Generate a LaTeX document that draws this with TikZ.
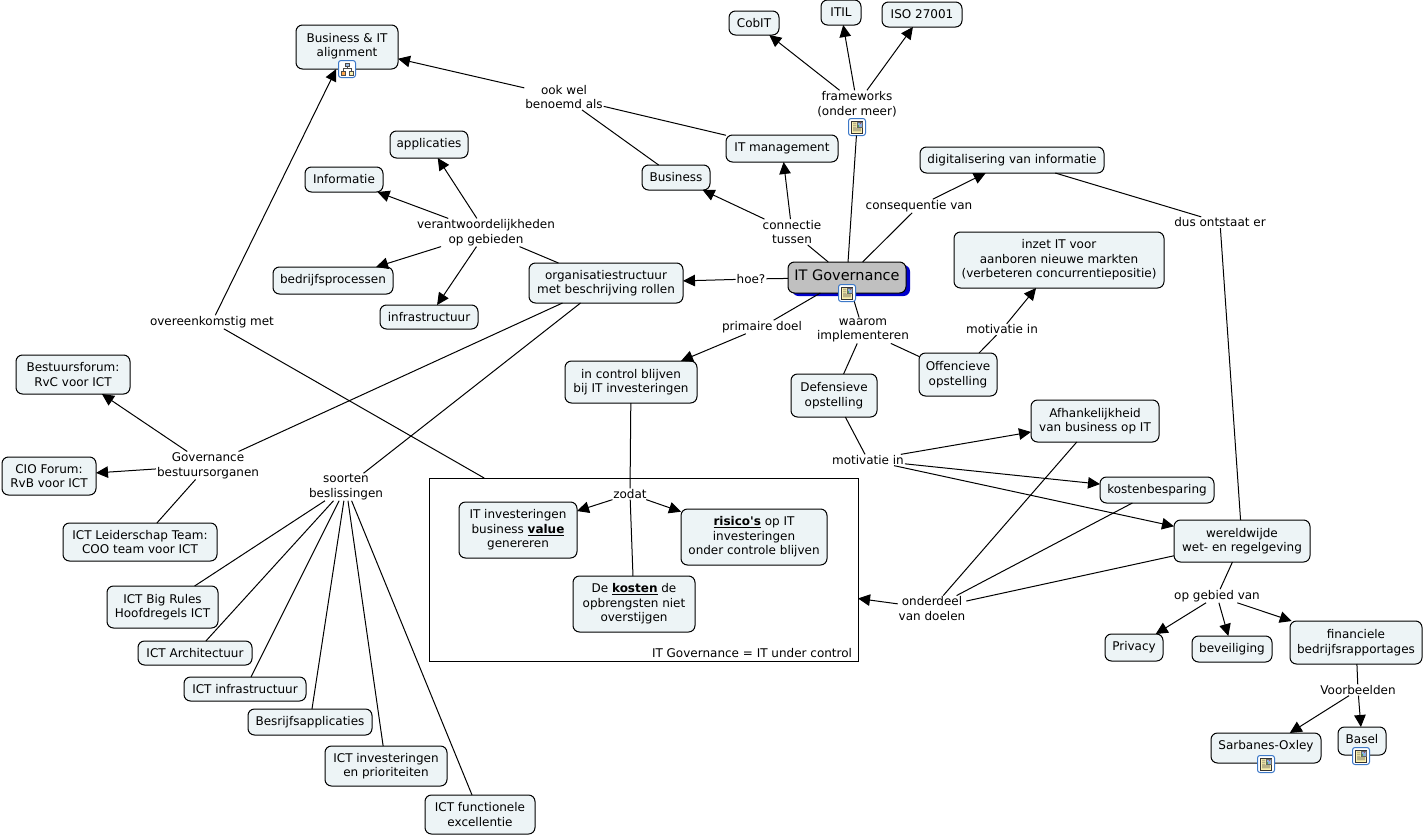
\documentclass[tikz,border=0pt]{standalone}
\usepackage{fontspec}
\setmainfont{DejaVu Sans}[Ligatures=TeXOff]
\usetikzlibrary{arrows.meta,shadows}
\definecolor{boxfill}{HTML}{EDF4F6}
\definecolor{mainfill}{HTML}{C0C0C0}
\definecolor{shadowblue}{HTML}{0000CC}
\definecolor{iconblue}{HTML}{3C78C8}
\definecolor{iconyellow}{HTML}{FBF1B0}
\tikzset{
  base/.style={font=\fontsize{12}{14.6}\selectfont,align=center,inner sep=0pt,outer sep=0pt,text=black},
  cpt/.style={base,draw=black,line width=1pt,fill=boxfill,rounded corners=6.5pt},
  lnk/.style={base,inner xsep=1pt,inner ysep=1pt},
  conn/.style={draw=black,line width=1pt},
  arr/.style={conn,-{Triangle[length=12pt,width=11.5pt]}},
  icn/.style={draw=iconblue,line width=1pt,fill=white,rounded corners=2.5pt,minimum width=17pt,minimum height=17pt,inner sep=0pt,outer sep=0pt},
}
\newcommand\cbox[7][]{\node[cpt,minimum width={#5-#3},minimum height={#6-#4},#1] (#2) at ({(#3+#5)/2},{(#4+#6)/2}) {#7};}
\newcommand\lbl[4]{\node[lnk] (#1) at (#2,#3) {#4};}
\newcommand\docicon[3]{%
  \node[icn] (#1) at (#2,#3) {};
  \begin{scope}[shift={(#1.center)}]
    \path[fill=iconyellow,draw=black!80,line width=.5pt] (-5.5,-6) rectangle (5.5,6);
    \path[fill=black!75] (-4,-4.2) rectangle (-.6,-3.6) (-4,-2.2) rectangle (-.6,-1.6) (-4,-.2) rectangle (-.6,.4);
    \path[fill=black!75] (-4,1.7) rectangle (4,2.3) (-4,3.6) rectangle (4,4.2);
    \path[fill=iconblue!60,draw=black!60,line width=.3pt] (.3,-5) rectangle (4.7,-.2);
    \path[fill=green!50!black!70] (.6,-.5) rectangle (2.4,-2);
    \path[fill=red!60!black!70] (2.8,-3) rectangle (4.3,-4.4);
  \end{scope}}
\newcommand\hiericon[3]{%
  \node[icn] (#1) at (#2,#3) {};
  \begin{scope}[shift={(#1.center)}]
    \path[draw=black!70,line width=.5pt] (0,-2.5) -- (0,-.5) (-4,2) -- (-4,-.5) -- (4,-.5) -- (4,2);
    \path[fill=iconblue!50,draw=black!70,line width=.4pt] (-2,-6) rectangle (2,-2.5);
    \path[fill=orange!70,draw=black!70,line width=.4pt] (-6,2) rectangle (-2,5.7);
    \path[fill=iconyellow,draw=black!70,line width=.4pt] (2,2) rectangle (6,5.7);
  \end{scope}}
\begin{document}
\begin{tikzpicture}[x=1pt,y=-1pt]
\path[fill=white,use as bounding box] (0,0) rectangle (1425,836);
% frame
\node[draw=black,line width=1pt,minimum width=429pt,minimum height=183pt,inner sep=0pt,outer sep=0pt] (frame) at (643.5,569.5) {};
\node[base] (framelbl) at (752,653) {IT Governance = IT under control};
% concepts
\cbox{biz}{296}{25}{398}{69}{Business \& IT\\alignment\\[-10.6pt]}
\cbox{cobit}{729}{11}{779}{35}{CobIT}
\cbox{itil}{821}{0}{861}{25}{ITIL}
\cbox{iso}{882}{2}{962}{27}{ISO 27001}
\cbox{itman}{726}{135}{838}{162}{IT management}
\cbox{business}{642}{165}{710}{190}{Business}
\cbox{digital}{920}{147}{1104}{173}{digitalisering van informatie}
\cbox{applic}{390}{131}{468}{158}{applicaties}
\cbox{inform}{305}{167}{383}{192}{Informatie}
\cbox{bedrijf}{273}{267}{393}{294}{bedrijfsprocessen}
\cbox{infra}{380}{305}{478}{329}{infrastructuur}
\cbox{org}{529}{263}{683}{303}{organisatiestructuur\\met beschrijving rollen}
\cbox[font=\fontsize{14.5}{17}\selectfont,fill=mainfill,general shadow={shadow xshift=4pt,shadow yshift=-3pt,fill=shadowblue}]{itgov}{788}{262}{906}{293}{IT Governance\\[-13pt]}
\cbox{inzet}{954}{232}{1164}{288}{inzet IT voor\\aanboren nieuwe markten\\(verbeteren concurrentiepositie)}
\cbox{offens}{919}{353}{997}{396}{Offencieve\\opstelling}
\cbox{defens}{791}{374}{877}{417}{Defensieve\\opstelling}
\cbox{incontrol}{565}{361}{697}{403}{in control blijven\\bij IT investeringen}
\cbox{afh}{1031}{400}{1159}{442}{Afhankelijkheid\\van business op IT}
\cbox{kosten}{1100}{477}{1214}{503}{kostenbesparing}
\cbox{wereld}{1174}{520}{1310}{562}{wereldwijde\\wet- en regelgeving}
\cbox{bestuur}{16}{355}{130}{394}{Bestuursforum:\\RvC voor ICT}
\cbox{cio}{2}{457}{96}{495}{CIO Forum:\\RvB voor ICT}
\cbox{leider}{63}{523}{217}{561}{ICT Leiderschap Team:\\COO team voor ICT}
\cbox{bigrules}{107}{586}{218}{628}{ICT Big Rules\\Hoofdregels ICT}
\cbox{arch}{138}{641}{252}{665}{ICT Architectuur}
\cbox{ictinfra}{184}{677}{306}{701}{ICT infrastructuur}
\cbox{besrijf}{248}{709}{372}{735}{Besrijfsapplicaties}
\cbox{invest}{325}{746}{447}{786}{ICT investeringen\\en prioriteiten}
\cbox{func}{425}{795}{535}{834}{ICT functionele\\excellentie}
\cbox{value}{459}{502}{577}{558}{IT investeringen\\business \underline{\textbf{value}}\\genereren}
\cbox{risico}{681}{509}{827}{565}{\underline{\textbf{risico's}} op IT\\investeringen\\onder controle blijven}
\cbox{kostbox}{573}{576}{695}{632}{De \underline{\textbf{kosten}} de\\opbrengsten niet\\overstijgen}
\cbox{privacy}{1105}{634}{1163}{661}{Privacy}
\cbox{bevei}{1192}{636}{1272}{662}{beveiliging}
\cbox{fin}{1290}{621}{1422}{664}{financiele\\bedrijfsrapportages}
\cbox{sarb}{1211}{733}{1321}{763}{Sarbanes-Oxley\\[-8.6pt]}
\cbox{basel}{1338}{727}{1386}{755}{Basel\\[-10.6pt]}
% linking phrases
\lbl{ook}{564}{97}{ook wel\\benoemd als}
\lbl{frameworks}{857}{104}{frameworks\\(onder meer)}
\lbl{verant}{486}{232.5}{verantwoordelijkheden\\op gebieden}
\lbl{connectie}{792}{232}{connectie\\tussen}
\lbl{conseq}{919}{206}{consequentie van}
\lbl{dus}{1220}{222.5}{dus ontstaat er}
\lbl{hoe}{751}{279}{hoe?}
\lbl{primaire}{762}{327}{primaire doel}
\lbl{waarom}{863}{330.5}{waarom\\implementeren}
\lbl{motivA}{1002}{329.5}{motivatie in}
\lbl{motivB}{868}{460}{motivatie in}
\lbl{overeen}{212}{322}{overeenkomstig met}
\lbl{govern}{208}{465.5}{Governance\\bestuursorganen}
\lbl{soorten}{346}{487}{soorten\\beslissingen}
\lbl{zodat}{630}{494}{zodat}
\lbl{onderdeel}{932}{608.5}{onderdeel\\van doelen}
\lbl{opgebied}{1217}{596}{op gebied van}
\lbl{voorb}{1358}{690}{Voorbeelden}
% icon nodes (connector targets)
\docicon{icFrame}{857}{127}
% connectors
\draw[arr] (frameworks) -- (cobit);
\draw[arr] (frameworks) -- (itil);
\draw[arr] (frameworks) -- (iso);
\draw[conn] (itgov) -- (icFrame);
\draw[conn] (itgov) -- (connectie);
\draw[arr] (connectie) -- (itman);
\draw[arr] (connectie) -- (business);
\draw[conn] (itgov) -- (conseq);
\draw[arr] (conseq) -- (digital);
\draw[conn] (digital) -- (dus);
\draw[conn] (dus) -- (wereld);
\draw[arr] (ook) -- (biz);
\draw[conn] (business) -- (ook);
\draw[conn] (itman) -- (ook);
\draw[conn] (org) -- (verant);
\draw[arr] (verant) -- (applic);
\draw[arr] (verant) -- (inform);
\draw[arr] (verant) -- (bedrijf);
\draw[arr] (verant) -- (infra);
\draw[conn] (itgov) -- (hoe);
\draw[arr] (hoe) -- (org);
\draw[conn] (itgov) -- (primaire);
\draw[arr] (primaire) -- (incontrol);
\draw[conn] (itgov) -- (waarom);
\draw[conn] (waarom) -- (defens);
\draw[conn] (waarom) -- (offens);
\draw[conn] (offens) -- (motivA);
\draw[arr] (motivA) -- (inzet);
\draw[conn] (defens) -- (motivB);
\draw[arr] (motivB) -- (afh);
\draw[arr] (motivB) -- (kosten);
\draw[arr] (motivB) -- (wereld);
\draw[conn] (afh) -- (onderdeel);
\draw[conn] (kosten) -- (onderdeel);
\draw[conn] (wereld) -- (onderdeel);
\draw[arr] (onderdeel) -- (frame);
\draw[conn] (wereld) -- (opgebied);
\draw[arr] (opgebied) -- (privacy);
\draw[arr] (opgebied) -- (bevei);
\draw[arr] (opgebied) -- (fin);
\draw[conn] (fin) -- (voorb);
\draw[arr] (voorb) -- (sarb);
\draw[arr] (voorb) -- (basel);
\draw[arr] (overeen) -- (biz);
\draw[conn] (frame) -- (overeen);
\draw[conn] (org) -- (govern);
\draw[conn] (org) -- (soorten);
\draw[arr] (govern) -- (bestuur);
\draw[arr] (govern) -- (cio);
\draw[conn] (leider) -- (govern);
\draw[conn] (soorten) -- (bigrules);
\draw[conn] (soorten) -- (arch);
\draw[conn] (soorten) -- (ictinfra);
\draw[conn] (soorten) -- (besrijf);
\draw[conn] (soorten) -- (invest);
\draw[conn] (soorten) -- (func);
\draw[conn] (incontrol) -- (zodat);
\draw[conn] (zodat) -- (kostbox);
\draw[arr] (zodat) -- (value);
\draw[arr] (zodat) -- (risico);
% remaining icons
\hiericon{icBiz}{347}{69}
\docicon{icGov}{847}{293}
\docicon{icSarb}{1266}{764}
\docicon{icBasel}{1361}{756}
\end{tikzpicture}
\end{document}
